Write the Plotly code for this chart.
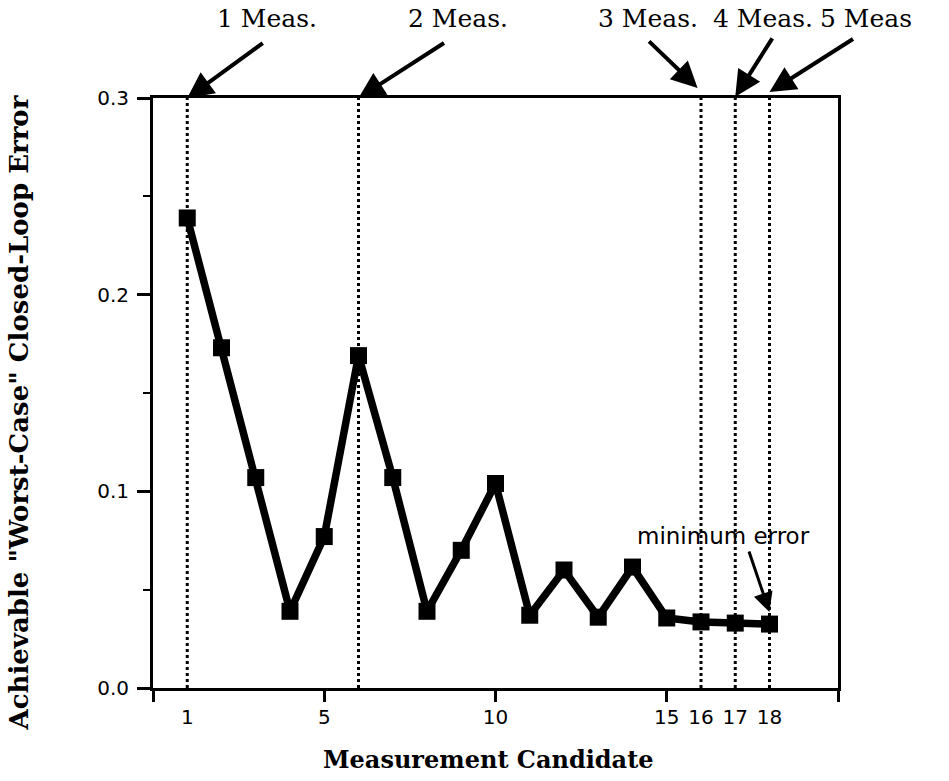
import plotly.graph_objects as go

candidates = list(range(1, 19))
errors = [0.239, 0.173, 0.107, 0.039, 0.077, 0.169, 0.107, 0.039, 0.070, 0.104,
          0.037, 0.060, 0.036, 0.0615, 0.0356, 0.0336, 0.033, 0.0325]
meas_lines = [1, 6, 16, 17, 18]
x_tick_labels = [1, 5, 10, 15, 16, 17, 18]
x_tick_marks = [0, 5, 10, 15, 20]
y_ticks = [0.0, 0.1, 0.2, 0.3]
y_tick_text = ["0.0", "0.1", "0.2", "0.3"]

# Top labels: text, paper x of label, arrow tip (x data, y paper), arrow tail offset px
meas_labels = ["1 Meas.", "2 Meas.", "3 Meas.", "4 Meas.", "5 Meas"]
meas_label_x = [0.166, 0.445, 0.723, 0.891, 0.971]
meas_label_anchor = ["center", "center", "center", "center", "left"]
meas_tip_x = [1, 6, 15.9, 17, 18]
meas_tip_y = [1.0, 1.0, 1.017, 1.002, 1.010]
meas_ax = [77, 87, -50, 38, 85]
meas_ay = [-56, -56, -48, -60, -54]

serif = "DejaVu Serif"
sans = "DejaVu Sans"

fig = go.Figure()

for v in meas_lines:
    fig.add_trace(go.Scatter(x=[v, v], y=[0, 0.3], mode="lines",
                             line=dict(color="black", width=3, dash="dot"),
                             hoverinfo="skip", showlegend=False))

fig.add_trace(go.Scatter(x=candidates, y=errors, mode="lines+markers",
                         line=dict(color="black", width=7.5),
                         marker=dict(symbol="square", size=17, color="black"),
                         showlegend=False))

annotations = []
for txt, lx, anc, tx, ty, ax, ay in zip(meas_labels, meas_label_x, meas_label_anchor,
                                        meas_tip_x, meas_tip_y, meas_ax, meas_ay):
    annotations.append(dict(xref="paper", yref="paper", x=lx, y=1.135, text=txt,
                            showarrow=False, xanchor=anc, yanchor="middle",
                            font=dict(family=serif, size=25, color="black")))
    annotations.append(dict(xref="x", yref="paper", x=tx, y=ty, text="", showarrow=True,
                            ax=ax, ay=ay, arrowhead=2, arrowsize=1.3, arrowwidth=4,
                            arrowcolor="black"))

annotations.append(dict(xref="x", yref="y", x=18, y=0.0386, text="", showarrow=True,
                        ax=-21, ay=-62, arrowhead=2, arrowsize=1.3, arrowwidth=3,
                        arrowcolor="black"))
annotations.append(dict(xref="x", yref="y", x=16.67, y=0.0775, text="minimum error",
                        showarrow=False, xanchor="center", yanchor="middle",
                        font=dict(family=sans, size=23, color="black")))

annotations.append(dict(xref="paper", yref="paper", x=-0.195, y=0.466,
                        text="<b>Achievable \"Worst-Case\" Closed-Loop Error</b>",
                        textangle=-90, showarrow=False, xanchor="center", yanchor="middle",
                        font=dict(family=serif, size=26, color="black")))
annotations.append(dict(xref="paper", yref="paper", x=0.49, y=-0.122,
                        text="<b>Measurement Candidate</b>",
                        showarrow=False, xanchor="center", yanchor="middle",
                        font=dict(family=serif, size=24, color="black")))

fig.update_layout(
    width=949, height=781,
    margin=dict(l=153, r=111, t=98, b=93),
    paper_bgcolor="white", plot_bgcolor="white",
    annotations=annotations,
    xaxis=dict(range=[0, 20], tickvals=x_tick_labels, ticktext=[str(t) for t in x_tick_labels],
               ticks="", showgrid=False, zeroline=False,
               showline=True, linecolor="black", linewidth=3, mirror=True,
               tickfont=dict(family=sans, size=20, color="black"),
               ticklabelstandoff=9,
               minor=dict(tickvals=x_tick_marks, ticks="outside", ticklen=11,
                          tickwidth=3, tickcolor="black", showgrid=False)),
    yaxis=dict(range=[0, 0.3], tickvals=y_ticks, ticktext=y_tick_text,
               ticks="outside", ticklen=13, tickwidth=3, tickcolor="black",
               showgrid=False, zeroline=False,
               showline=True, linecolor="black", linewidth=3, mirror=True,
               tickfont=dict(family=sans, size=20, color="black"),
               ticklabelstandoff=4,
               minor=dict(dtick=0.05, ticks="outside", ticklen=7, tickwidth=2,
                          tickcolor="black", showgrid=False)),
)

fig.write_html("out.html")
